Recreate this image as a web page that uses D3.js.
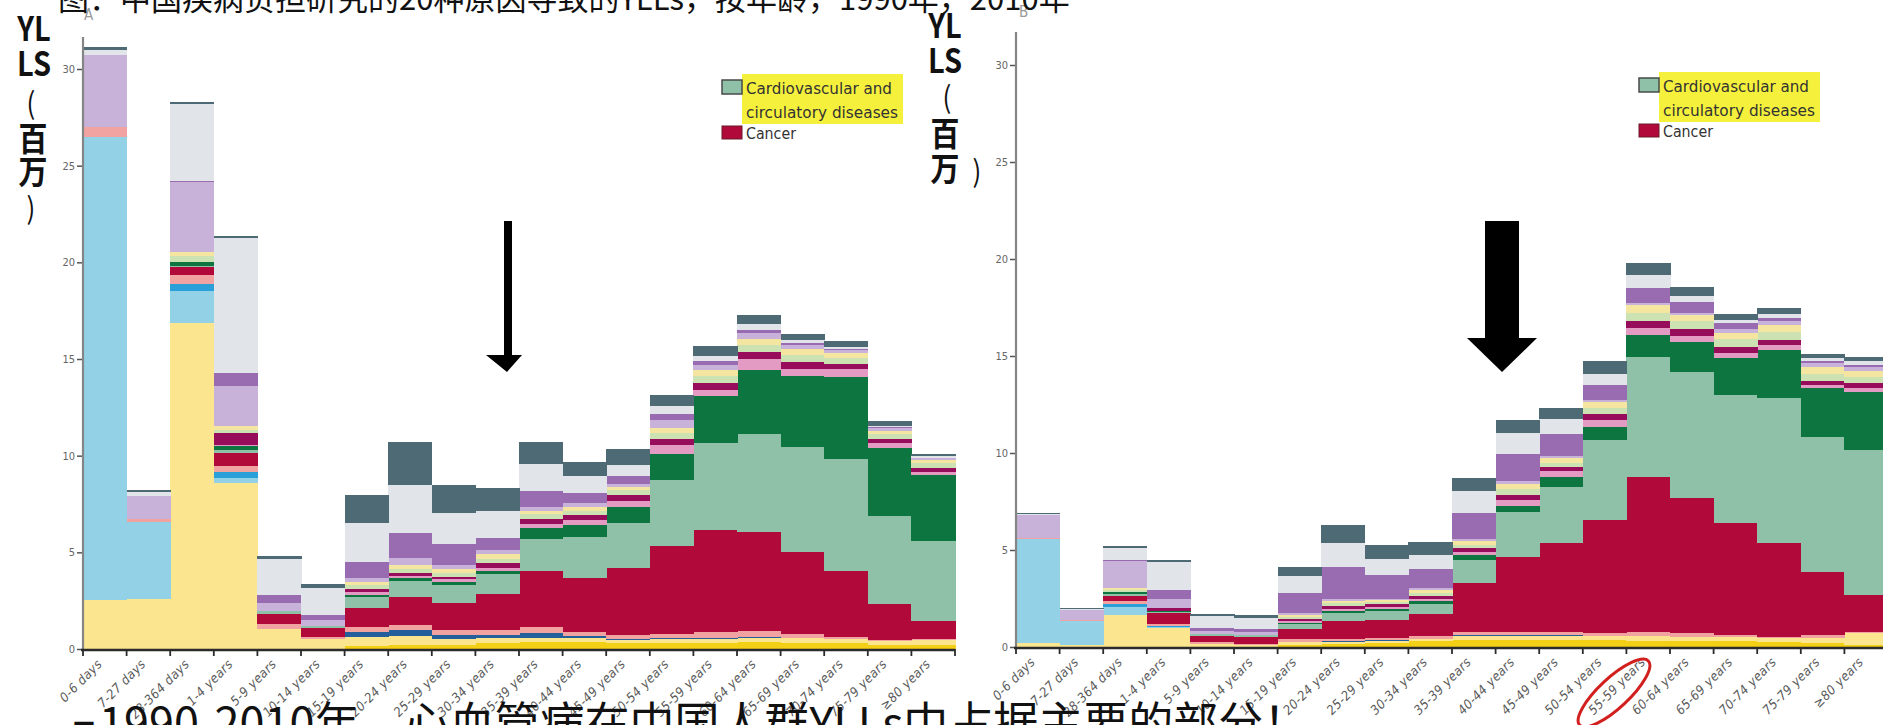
<!DOCTYPE html>
<html>
<head>
<meta charset="utf-8">
<script src="https://cdn.jsdelivr.net/npm/d3@7"></script>
<style>
  body { margin: 0; background: #fff; overflow: hidden; }
  svg { display: block; }
</style>
</head>
<body>
<svg id="chart" width="1883" height="725"></svg>
<script>
// age groups along the x axis (same for both panels)
const ages = ["0-6 days", "7-27 days", "28-364 days", "1-4 years", "5-9 years", "10-14 years",
  "15-19 years", "20-24 years", "25-29 years", "30-34 years", "35-39 years", "40-44 years",
  "45-49 years", "50-54 years", "55-59 years", "60-64 years", "65-69 years", "70-74 years",
  "75-79 years", "≥80 years"];
const yTicks = [0, 5, 10, 15, 20, 25, 30];

// causes, bottom of the stack first
const causes = ["hivtb", "infect", "neonatal", "nutrition", "otherComm", "maternal", "cancer", "cvd",
  "resp", "cirr", "digest", "neuro", "mental", "otherNcd", "transport", "unintentional", "intentional"];

// panel A: 1990, YLLs in millions
const hivtb1990 = [0, 0, 0, 0, 0, 0, 0.15, 0.2, 0.2, 0.3, 0.35, 0.35, 0.3, 0.3, 0.3, 0.35, 0.3, 0.3, 0.2, 0.2];
const infect1990 = [2.55, 2.6, 16.85, 8.6, 1.05, 0.5, 0.45, 0.45, 0.3, 0.25, 0.2, 0.2, 0.15, 0.2, 0.2, 0.2, 0.25, 0.2, 0.2, 0.25];
const neonatal1990 = [23.95, 3.95, 1.65, 0.25, 0, 0, 0, 0, 0, 0, 0, 0, 0, 0, 0, 0, 0, 0, 0, 0];
const nutrition1990 = [0, 0, 0.4, 0.3, 0, 0, 0, 0, 0, 0, 0, 0, 0, 0, 0, 0, 0, 0, 0, 0];
const otherComm1990 = [0, 0, 0, 0, 0, 0, 0.3, 0.35, 0.25, 0.2, 0.3, 0.1, 0.05, 0.05, 0.05, 0.05, 0.03, 0.02, 0.02, 0.01];
const maternal1990 = [0.5, 0.15, 0.45, 0.3, 0.25, 0.1, 0.25, 0.25, 0.25, 0.25, 0.3, 0.25, 0.2, 0.23, 0.33, 0.31, 0.2, 0.08, 0.05, 0.04];
const cancer1990 = [0, 0, 0.42, 0.7, 0.5, 0.5, 0.95, 1.45, 1.4, 1.85, 2.9, 2.76, 3.51, 4.53, 5.26, 5.14, 4.25, 3.41, 1.88, 0.93];
const cvd1990 = [0, 0, 0.05, 0.15, 0.15, 0.1, 0.6, 0.8, 0.9, 1.05, 1.65, 2.13, 2.3, 3.41, 4.52, 5.08, 5.4, 5.82, 4.53, 4.16];
const resp1990 = [0, 0, 0.2, 0.2, 0, 0, 0.1, 0.15, 0.15, 0.15, 0.56, 0.64, 0.84, 1.38, 2.41, 3.32, 3.7, 4.25, 3.51, 3.41];
const cirr1990 = [0, 0, 0, 0.05, 0, 0, 0.15, 0.15, 0.15, 0.15, 0.2, 0.25, 0.3, 0.45, 0.35, 0.55, 0.37, 0.42, 0.24, 0.15];
const digest1990 = [0, 0, 0, 0.6, 0, 0, 0.15, 0.15, 0.15, 0.25, 0.25, 0.25, 0.3, 0.3, 0.35, 0.38, 0.37, 0.26, 0.22, 0.22];
const neuro1990 = [0, 0, 0.3, 0.2, 0, 0, 0.2, 0.2, 0.2, 0.2, 0.25, 0.2, 0.25, 0.3, 0.35, 0.35, 0.35, 0.3, 0.25, 0.25];
const mental1990 = [0, 0, 0.2, 0.2, 0, 0, 0.15, 0.2, 0.2, 0.25, 0.2, 0.2, 0.2, 0.3, 0.3, 0.3, 0.3, 0.25, 0.2, 0.15];
const otherNcd1990 = [3.75, 1.2, 3.65, 2.05, 0.45, 0.3, 0.2, 0.35, 0.2, 0.2, 0.2, 0.2, 0.15, 0.4, 0.25, 0.3, 0.2, 0.15, 0.14, 0.1];
const transport1990 = [0, 0, 0.05, 0.7, 0.4, 0.25, 0.85, 1.3, 1.1, 0.65, 0.8, 0.55, 0.38, 0.3, 0.25, 0.15, 0.1, 0.07, 0.05, 0.03];
const unintentional1990 = [0.25, 0.2, 3.95, 6.95, 1.85, 1.4, 2.0, 2.5, 1.6, 1.4, 1.4, 0.85, 0.6, 0.42, 0.25, 0.33, 0.15, 0.1, 0.07, 0.06];
const intentional1990 = [0.15, 0.1, 0.1, 0.1, 0.15, 0.2, 1.45, 2.2, 1.45, 1.2, 1.15, 0.74, 0.8, 0.56, 0.48, 0.45, 0.31, 0.28, 0.22, 0.15];

// panel B: 2010
const hivtb2010 = [0, 0, 0, 0, 0, 0, 0.1, 0.15, 0.2, 0.3, 0.35, 0.35, 0.35, 0.35, 0.3, 0.3, 0.3, 0.25, 0.2, 0.1];
const infect2010 = [0.2, 0.1, 1.63, 1.0, 0.15, 0.1, 0.15, 0.1, 0.1, 0.1, 0.2, 0.2, 0.2, 0.2, 0.25, 0.2, 0.2, 0.2, 0.25, 0.6];
const neonatal2010 = [5.35, 1.25, 0.45, 0.05, 0, 0, 0, 0, 0, 0, 0, 0, 0, 0, 0, 0, 0, 0, 0, 0];
const nutrition2010 = [0, 0, 0.15, 0.05, 0, 0, 0, 0, 0, 0, 0, 0, 0, 0, 0, 0, 0, 0, 0, 0];
const otherComm2010 = [0, 0, 0, 0, 0, 0, 0, 0.05, 0.05, 0.03, 0.08, 0.06, 0.05, 0.03, 0.04, 0.03, 0.02, 0.02, 0.02, 0.02];
const maternal2010 = [0.05, 0.04, 0.15, 0.1, 0.1, 0.05, 0.15, 0.1, 0.1, 0.15, 0.16, 0.18, 0.19, 0.13, 0.2, 0.18, 0.1, 0.06, 0.15, 0.07];
const cancer2010 = [0, 0, 0.25, 0.55, 0.3, 0.35, 0.55, 0.95, 0.95, 1.12, 2.52, 3.86, 4.56, 5.85, 7.99, 6.95, 5.76, 4.82, 3.26, 1.89];
const cvd2010 = [0, 0, 0.1, 0.05, 0.1, 0.1, 0.25, 0.4, 0.45, 0.5, 1.2, 2.32, 2.91, 4.1, 6.18, 6.53, 6.61, 7.47, 6.96, 7.47];
const resp2010 = [0, 0, 0.1, 0.05, 0, 0, 0.05, 0.1, 0.1, 0.15, 0.25, 0.3, 0.5, 0.68, 1.12, 1.55, 1.89, 2.48, 2.49, 3.01];
const cirr2010 = [0, 0, 0, 0, 0, 0, 0.1, 0.1, 0.1, 0.15, 0.15, 0.3, 0.3, 0.35, 0.35, 0.3, 0.3, 0.25, 0.2, 0.2];
const digest2010 = [0, 0, 0, 0.15, 0, 0, 0.1, 0.15, 0.15, 0.15, 0.2, 0.25, 0.2, 0.3, 0.35, 0.35, 0.3, 0.3, 0.2, 0.23];
const neuro2010 = [0, 0, 0.1, 0, 0, 0, 0.1, 0.15, 0.1, 0.15, 0.15, 0.3, 0.25, 0.35, 0.45, 0.4, 0.4, 0.4, 0.35, 0.35];
const mental2010 = [0, 0, 0.1, 0, 0, 0, 0.1, 0.1, 0.1, 0.13, 0.2, 0.3, 0.25, 0.3, 0.38, 0.3, 0.3, 0.35, 0.35, 0.3];
const otherNcd2010 = [1.2, 0.5, 1.4, 0.5, 0.15, 0.15, 0.1, 0.1, 0.1, 0.1, 0.1, 0.12, 0.1, 0.1, 0.1, 0.11, 0.2, 0.2, 0.2, 0.2];
const transport2010 = [0, 0, 0.05, 0.42, 0.2, 0.2, 1.03, 1.68, 1.2, 0.97, 1.35, 1.4, 1.1, 0.78, 0.77, 0.6, 0.3, 0.15, 0.12, 0.1];
const unintentional2010 = [0.05, 0.05, 0.6, 1.45, 0.6, 0.55, 0.86, 1.24, 0.82, 0.74, 1.11, 1.07, 0.78, 0.56, 0.7, 0.29, 0.18, 0.21, 0.13, 0.18];
const intentional2010 = [0.07, 0.05, 0.12, 0.11, 0.12, 0.15, 0.47, 0.9, 0.72, 0.69, 0.69, 0.69, 0.6, 0.64, 0.6, 0.48, 0.3, 0.3, 0.22, 0.22];

const causeColor = {
  hivtb: "#f3cf16", infect: "#fbe58e", neonatal: "#93d1e6", nutrition: "#2b9fd8",
  otherComm: "#23609b", maternal: "#f1a3a1", cancer: "#b1093a", cvd: "#8fc0a8",
  resp: "#0d7540", cirr: "#e39bc3", digest: "#980d5b", neuro: "#cde2b2",
  mental: "#f4e6a0", otherNcd: "#c8b2d9", transport: "#996bb1",
  unintentional: "#e1e4e9", intentional: "#4e6a74"
};

const table1990 = {hivtb: hivtb1990, infect: infect1990, neonatal: neonatal1990, nutrition: nutrition1990,
  otherComm: otherComm1990, maternal: maternal1990, cancer: cancer1990, cvd: cvd1990, resp: resp1990,
  cirr: cirr1990, digest: digest1990, neuro: neuro1990, mental: mental1990, otherNcd: otherNcd1990,
  transport: transport1990, unintentional: unintentional1990, intentional: intentional1990};
const table2010 = {hivtb: hivtb2010, infect: infect2010, neonatal: neonatal2010, nutrition: nutrition2010,
  otherComm: otherComm2010, maternal: maternal2010, cancer: cancer2010, cvd: cvd2010, resp: resp2010,
  cirr: cirr2010, digest: digest2010, neuro: neuro2010, mental: mental2010, otherNcd: otherNcd2010,
  transport: transport2010, unintentional: unintentional2010, intentional: intentional2010};

function toRows(table) {
  return ages.map((age, i) => {
    const row = {age: age};
    causes.forEach(c => row[c] = table[c][i]);
    return row;
  });
}

const svg = d3.select("#chart");
const condensed = "'DejaVu Sans Condensed', 'DejaVu Sans', sans-serif";
const cjk = "'Noto Sans CJK SC', sans-serif";

function drawPanel(rows, p) {
  const x = d3.scaleBand().domain(ages).range([p.left, p.left + 20 * 43.6]).padding(0);
  const y = d3.scaleLinear().domain([0, 30]).range([p.zero, p.top30]);
  const g = svg.append("g");

  // stacked bars
  const series = d3.stack().keys(causes)(rows);
  g.selectAll("g.layer")
    .data(series)
    .join("g")
      .attr("class", "layer")
      .attr("fill", d => causeColor[d.key])
    .selectAll("rect")
    .data(d => d)
    .join("rect")
      .attr("x", d => x(d.data.age))
      .attr("width", x.bandwidth() + 0.6)
      .attr("y", d => y(d[1]))
      .attr("height", d => Math.max(0, y(d[0]) - y(d[1])))
      .attr("shape-rendering", "crispEdges");

  // y axis
  const ay = g.append("g")
    .attr("transform", `translate(${p.left},0)`)
    .call(d3.axisLeft(y).tickValues(yTicks).tickSize(6).tickPadding(2));
  ay.select(".domain").remove();
  ay.selectAll("line").attr("stroke", "#555").attr("stroke-width", 1.5);
  ay.selectAll("text").attr("fill", "#666").style("font-family", condensed).style("font-size", "11px");
  g.append("line")
    .attr("x1", p.left).attr("x2", p.left)
    .attr("y1", p.axisTop).attr("y2", p.zero)
    .attr("stroke", "#858585").attr("stroke-width", 2.2);

  // x axis: ticks on bar edges, labels slanted
  const edges = ages.map(a => x(a)).concat([x.range()[1]]);
  g.append("line")
    .attr("x1", p.left - 2).attr("x2", x.range()[1])
    .attr("y1", p.zero + 1).attr("y2", p.zero + 1)
    .attr("stroke", "#2b2b2b").attr("stroke-width", 2.5);
  g.selectAll("line.xt")
    .data(edges)
    .join("line")
      .attr("class", "xt")
      .attr("x1", d => d).attr("x2", d => d)
      .attr("y1", p.zero).attr("y2", p.zero + 7)
      .attr("stroke", "#2b2b2b").attr("stroke-width", 1.8);
  g.selectAll("text.xl")
    .data(ages)
    .join("text")
      .attr("class", "xl")
      .attr("text-anchor", "end")
      .attr("transform", d => `translate(${x(d) + x.bandwidth() / 2 - 2},${p.zero + 16}) rotate(-45)`)
      .style("font-family", condensed)
      .style("font-size", "13px")
      .style("letter-spacing", "0.4px")
      .style("font-style", "italic")
      .attr("fill", "#5a5a5a")
      .text(d => d);

  // panel letter
  g.append("text")
    .attr("x", p.letterX).attr("y", p.letterY)
    .style("font-family", condensed).style("font-size", "15px")
    .attr("fill", "#9a9a9a")
    .text(p.letter);

  // legend
  const lg = g.append("g").attr("transform", `translate(${p.legendX},${p.legendY})`);
  lg.append("rect").attr("x", 20).attr("y", -6).attr("width", 161).attr("height", 50).attr("fill", "#f5f03c");
  lg.append("rect").attr("x", 0).attr("y", 0).attr("width", 20).attr("height", 14)
    .attr("fill", causeColor.cvd).attr("stroke", "#4a4a4a").attr("stroke-width", 1.5);
  lg.append("rect").attr("x", 0).attr("y", 46).attr("width", 20).attr("height", 13)
    .attr("fill", causeColor.cancer).attr("stroke", "#6a1a2a").attr("stroke-width", 1);
  const legendText = [["Cardiovascular and", 14, 146], ["circulatory diseases", 38, 152], ["Cancer", 59, 50]];
  legendText.forEach(([t, yy, len]) => {
    lg.append("text").attr("x", 24).attr("y", yy)
      .attr("textLength", len).attr("lengthAdjust", "spacingAndGlyphs")
      .style("font-family", condensed).style("font-size", "15px")
      .attr("fill", "#333").text(t);
  });

  // y axis title, stacked characters; brackets are thinner
  p.yTitle.forEach(([t, tx, ty]) => {
    const paren = t === "(" || t === ")";
    g.append("text")
      .attr("text-anchor", "middle")
      .attr("transform", `translate(${tx},${ty}) scale(1,1.15)`)
      .style("font-family", cjk)
      .style("font-size", paren ? "26px" : "29px")
      .style("font-weight", paren ? "normal" : "bold")
      .attr("fill", "#111")
      .text(t);
  });
}

drawPanel(toRows(table1990), {
  left: 83, zero: 649, top30: 69, axisTop: 37,
  letter: "A", letterX: 84, letterY: 20,
  legendX: 722, legendY: 80,
  yTitle: [["YL", 34, 41], ["LS", 34, 76], ["(", 31, 114], ["百", 33, 151], ["万", 33, 184], [")", 31, 219]]
});
drawPanel(toRows(table2010), {
  left: 1016, zero: 647, top30: 65, axisTop: 32,
  letter: "B", letterX: 1019, letterY: 17,
  legendX: 1639, legendY: 78,
  yTitle: [["YL", 945, 38], ["LS", 945, 73], ["(", 947, 108], ["百", 945, 146], ["万", 945, 181], [")", 977, 182]]
});

// annotation arrows
svg.append("path")
  .attr("d", "M504,221 L512,221 L512,355 L522,355 L507,372 L486,355 L504,355 Z")
  .attr("fill", "#000");
svg.append("path")
  .attr("d", "M1485,221 L1519,221 L1519,338 L1537,338 L1502,372 L1467,338 L1485,338 Z")
  .attr("fill", "#000");

// red ring around the 55-59 label of panel B
svg.append("ellipse")
  .attr("cx", 1614).attr("cy", 693).attr("rx", 47).attr("ry", 15)
  .attr("transform", "rotate(-43,1614,693)")
  .attr("fill", "none").attr("stroke", "#d2201f").attr("stroke-width", 3);

// slide text cut off at the top and bottom
svg.append("text")
  .attr("x", 58).attr("y", 10)
  .style("font-family", cjk).style("font-size", "31px")
  .attr("fill", "#111")
  .text("图：中国疾病负担研究的20种原因导致的YLLs，按年龄，1990年，2010年");
const note = svg.append("text")
  .attr("x", 72).attr("y", 740)
  .style("font-family", cjk).style("font-size", "45px")
  .attr("fill", "#111");
note.append("tspan").style("font-size", "24px").text("■");
note.append("tspan").attr("dx", 3).text("1990-2010年，心血管病在中国人群YLLs中占据主要的部分！");
</script>
</body>
</html>
